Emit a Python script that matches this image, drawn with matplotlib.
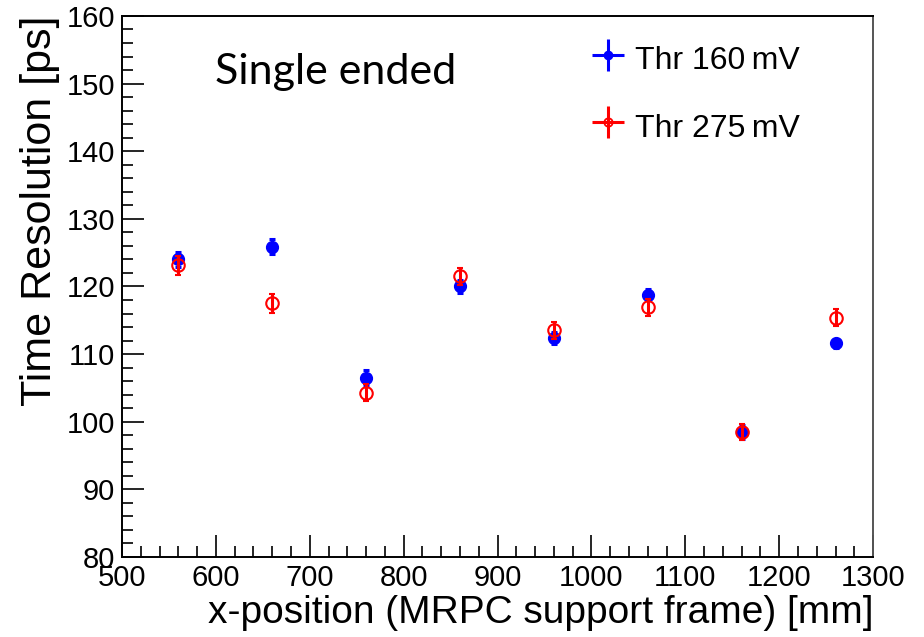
import matplotlib
matplotlib.use("Agg")
import matplotlib.pyplot as plt
from matplotlib.ticker import MultipleLocator

# x-positions along the MRPC support frame [mm]
xpos = [560, 660, 760, 860, 960, 1060, 1160, 1260]

# threshold 160 mV
res_160 = [124.0, 125.9, 106.5, 120.0, 112.4, 118.8, 98.5, 111.6]
err_160 = [1.1, 1.1, 1.1, 0.9, 0.9, 0.8, 1.0, 0.7]

# threshold 275 mV
res_275 = [123.1, 117.5, 104.3, 121.5, 113.5, 116.9, 98.5, 115.4]
err_275 = [1.4, 1.4, 1.3, 1.3, 1.3, 1.3, 1.2, 1.3]

plt.rcParams['font.family'] = ['Liberation Sans', 'DejaVu Sans']

fig = plt.figure(figsize=(9.24, 6.37), dpi=100)
ax = fig.add_axes([0.132, 0.1256, 0.813, 0.8494])

ax.errorbar(xpos, res_160, yerr=err_160, fmt='o', color='#0000ff',
            markersize=8.5, elinewidth=2.2, capsize=2, capthick=2.2, zorder=2)
ax.errorbar(xpos, res_275, yerr=err_275, fmt='o', color='#ff0000',
            mfc='none', mec='#ff0000', mew=1.5, markersize=9,
            elinewidth=2.2, capsize=2, capthick=2.2, zorder=3)

ax.set_xlim(500, 1300)
ax.set_ylim(80, 160)
ax.xaxis.set_major_locator(MultipleLocator(100))
ax.xaxis.set_minor_locator(MultipleLocator(20))
ax.yaxis.set_major_locator(MultipleLocator(10))
ax.yaxis.set_minor_locator(MultipleLocator(2))
ax.tick_params(which='both', direction='in', top=False, right=False,
               labelsize=21, width=1.2, color='black', pad=5)
ax.tick_params(which='major', length=16)
ax.tick_params(which='minor', length=8)
for s in ax.spines.values():
    s.set_linewidth(1.4)
ax.spines['right'].set_color('#555555')

ax.set_xlabel('x-position (MRPC support frame) [mm]', fontsize=28, loc='right', labelpad=2)
ax.set_ylabel('Time Resolution [ps]', fontsize=31, loc='top', labelpad=5)

ax.text(599, 150.0, 'Single ended', fontsize=31, family='Lato', ha='left', va='baseline')

# legend proxies
h1 = ax.errorbar([float('nan')], [float('nan')], xerr=1, yerr=1, fmt='o', color='#0000ff',
                 markersize=6, elinewidth=2.2)
h2 = ax.errorbar([float('nan')], [float('nan')], xerr=1, yerr=1, fmt='o', color='#ff0000',
                 mfc='none', mec='#ff0000', mew=1.3, markersize=6, elinewidth=2.2)
ax.legend([h1, h2], ['Thr 160\u2009mV', 'Thr 275\u2009mV'], loc='upper left',
          bbox_to_anchor=(0.585, 1.008), frameon=False, fontsize=23,
          handlelength=1.1, handleheight=1.4, handletextpad=0.3, labelspacing=0.95)

fig.savefig('out.png', dpi=100)
